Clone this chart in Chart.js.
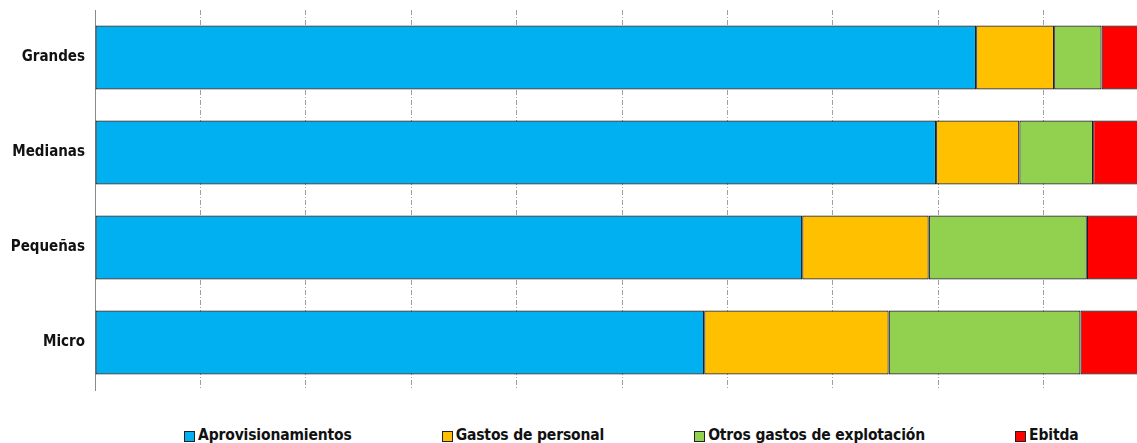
<!DOCTYPE html>
<html>
<head>
<meta charset="utf-8">
<script src="https://cdn.jsdelivr.net/npm/chart.js@4"></script>
<style>
    html, body { margin: 0; padding: 0; background: #fff; overflow: hidden; }
    body { width: 1137px; height: 443px; position: relative; }
    #wrap { position: absolute; left: 0; top: 0; width: 1160px; height: 400px; }
    #legend { position: absolute; left: 184px; top: 425px; display: flex; gap: 90px;
        font-family: "DejaVu Sans Condensed", sans-serif;
        font-weight: bold; font-size: 15.5px; color: #111; line-height: 20px; letter-spacing: -0.15px; }
    #legend .it { display: flex; align-items: center; white-space: nowrap; }
    #legend .box { width: 9px; height: 9px; border: 1px solid #222; margin-right: 3px; margin-top: 2px; }
</style>
</head>
<body>
<div id="wrap"><canvas id="chart"></canvas></div>
<div id="legend"></div>
<script>
const categories = ['Grandes', 'Medianas', 'Pequeñas', 'Micro'];
const aprovisionamientos = [83.6, 79.8, 67.1, 57.8];
const gastosPersonal = [7.4, 7.9, 12.0, 17.5];
const otrosGastos = [4.5, 7.0, 15.0, 18.2];
const ebitda = [4.5, 5.3, 5.9, 6.5];
const seriesNames = ['Aprovisionamientos', 'Gastos de personal', 'Otros gastos de explotación', 'Ebitda'];
const seriesColors = ['#00B0F0', '#FFC000', '#92D050', '#FF0000'];
const xTicks = [0, 10, 20, 30, 40, 50, 60, 70, 80, 90, 100];

const font = '"DejaVu Sans Condensed", sans-serif';
const values = [aprovisionamientos, gastosPersonal, otrosGastos, ebitda];

const chart = new Chart(
    document.getElementById('chart'),
    {
        type: 'bar',
        data: {
            labels: categories,
            datasets: values.map((v, i) => ({
                label: seriesNames[i],
                data: v,
                backgroundColor: seriesColors[i],
                borderColor: '#1e1e1e',
                borderWidth: 1.2,
                borderSkipped: false,
                categoryPercentage: 1,
                barPercentage: 0.675
            }))
        },
        options: {
            indexAxis: 'y',
            responsive: true,
            maintainAspectRatio: false,
            animation: false,
            layout: { padding: { top: 10, bottom: 10, right: 11, left: 0 } },
            plugins: {
                legend: { display: false },
                tooltip: { enabled: false }
            },
            scales: {
                x: {
                    stacked: true,
                    min: 0,
                    max: 100,
                    afterBuildTicks: scale => { scale.ticks = xTicks.map(v => ({ value: v })); },
                    afterFit: scale => { scale.height = 0; scale.paddingLeft = 0; scale.paddingRight = 0; },
                    ticks: { display: false },
                    grid: {
                        color: ctx => ctx.tick && ctx.tick.value === 0 ? 'rgba(0,0,0,0)' : '#a0a0a0',
                        drawTicks: false,
                        lineWidth: 1
                    },
                    border: { display: false, dash: [5, 2, 1, 2] }
                },
                y: {
                    stacked: true,
                    afterFit: scale => {
                        scale.width = 95;
                        scale.paddingTop = 0;
                        scale.paddingBottom = 0;
                    },
                    grid: { display: false, drawTicks: false },
                    border: { display: true, color: '#8a8a8a', width: 1 },
                    ticks: {
                        padding: 10,
                        color: '#111',
                        font: { family: font, size: 15, weight: 'bold' }
                    }
                }
            }
        }
    }
);

// legend built from the same series arrays
const legend = document.getElementById('legend');
seriesNames.forEach((name, i) => {
    const it = document.createElement('div');
    it.className = 'it';
    const box = document.createElement('span');
    box.className = 'box';
    box.style.background = seriesColors[i];
    const txt = document.createElement('span');
    txt.textContent = name;
    it.appendChild(box);
    it.appendChild(txt);
    legend.appendChild(it);
});
</script>
</body>
</html>
